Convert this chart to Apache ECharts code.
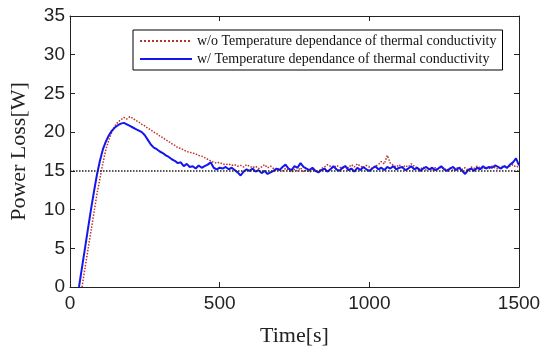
<!DOCTYPE html>
<html><head><meta charset="utf-8">
<script src="https://cdn.jsdelivr.net/npm/echarts@6/dist/echarts.min.js"></script>
<style>html,body{margin:0;padding:0;background:#fff}#c{width:550px;height:355px}</style>
</head><body><div id="c"></div>
<script>
const timeS = [30,40,50,60,70,80,90,100,110,120,130,140,150,160,170,180,190,200,210,220,230,240,250,260,270,280,290,300,310,320,330,340,350,360,370,380,390,400,410,420,430,440,450,460,470,480,490,500,510,520,530,540,550,560,570,580,590,600,610,620,630,640,650,660,670,680,690,700,710,720,730,740,750,760,770,780,790,800,810,820,830,840,850,860,870,880,890,900,910,920,930,940,950,960,970,980,990,1000,1010,1020,1030,1040,1050,1060,1070,1080,1090,1100,1110,1120,1130,1140,1150,1160,1170,1180,1190,1200,1210,1220,1230,1240,1250,1260,1270,1280,1290,1300,1310,1320,1330,1340,1350,1360,1370,1380,1390,1400,1410,1420,1430,1440,1450,1460,1470,1480,1490,1500];
const withTemp = [0,2.5,5,7.5,10,12.3,14.5,16.3,17.8,18.8,19.6,20.2,20.6,20.9,21.1,21.2,21.0,20.8,20.6,20.4,20.2,20.0,19.6,19.0,18.4,18.0,17.8,17.5,17.3,17.0,16.8,16.5,16.3,16.0,16.1,15.6,15.9,15.5,15.6,15.3,15.7,15.4,15.6,15.8,16.1,15.4,15.2,15.4,15.3,15.5,15.2,15.4,15.1,14.8,14.4,14.9,15.2,15.0,15.3,14.9,15.1,14.7,15.0,14.6,14.8,15.0,15.3,15.1,15.5,15.8,15.3,15.1,15.6,15.4,16.0,15.5,15.3,15.1,15.4,15.0,14.8,15.1,15.3,14.9,15.2,15.6,15.2,15.0,15.4,15.6,15.1,15.3,14.9,15.4,15.1,15.5,15.2,15.0,15.3,15.6,15.2,15.4,15.1,15.5,15.3,15.6,15.2,15.4,15.5,15.1,15.3,15.6,15.2,15.4,15.0,15.3,15.5,15.2,15.4,15.1,15.3,15.6,15.2,15.0,15.3,15.5,15.1,15.4,15.0,14.6,15.1,15.3,15.0,15.4,15.2,15.6,15.3,15.5,15.4,15.7,15.5,15.3,15.6,15.4,15.8,16.1,16.6,15.7];
const withoutTemp = [null,0,2.4,4.8,7.2,9.6,12.0,14.0,16.0,17.8,19.0,20.0,20.8,21.3,21.6,21.9,21.7,22.0,21.8,21.5,21.3,21.0,20.8,20.5,20.3,20.0,19.8,19.5,19.3,19.0,18.8,18.5,18.3,18.0,17.9,17.7,17.5,17.4,17.3,17.2,17.0,16.9,16.7,16.5,16.3,16.1,16.0,16.1,15.9,15.8,15.9,15.7,15.8,15.6,15.7,15.5,15.8,15.6,15.4,15.6,15.3,15.5,15.8,15.4,15.6,15.3,15.1,15.4,15.0,15.3,15.1,14.8,15.2,15.0,15.4,14.9,15.1,14.8,15.2,15.0,14.9,15.3,15.5,15.8,15.6,15.4,15.7,15.5,15.3,15.6,15.4,15.8,15.5,15.9,15.6,15.4,15.7,15.5,15.3,15.6,15.8,16.2,15.9,17.0,16.0,15.7,15.5,15.8,15.4,15.7,15.5,15.9,15.6,15.4,15.2,15.5,15.1,15.3,15.0,15.4,15.2,15.5,15.3,15.1,15.4,15.0,15.3,15.5,15.2,15.4,15.1,15.5,15.3,15.6,15.4,15.2,15.5,15.3,15.6,15.4,15.2,15.5,15.7,15.4,15.6,15.8,15.5,15.6];
const refLevel = 15;
const seriesNames = ['w/o Temperature dependance of thermal conductivity','w/ Temperature dependance of thermal conductivity'];

const pair = (xs, ys) => xs.map((x, i) => [x, ys[i]]);
const chart = echarts.init(document.getElementById('c'));
const tickFont = {fontFamily: 'Liberation Sans, Arial, sans-serif', fontSize: 19, color: '#222'};
const serif = 'Liberation Serif, Times New Roman, serif';
const frameLine = {show: true, onZero: false, lineStyle: {color: '#222'}};
const ticks = {show: true, inside: true, length: 5, lineStyle: {color: '#222'}};
chart.setOption({
  animation: false,
  grid: {left: 67, right: 31, top: 16, bottom: 68},
  legend: {
    orient: 'vertical', left: 133, top: 30, itemWidth: 52, itemHeight: 10, itemGap: 4,
    padding: [4, 6, 4, 6],
    borderColor: '#000', borderWidth: 1, backgroundColor: '#fff',
    itemStyle: {opacity: 0},
    textStyle: {fontFamily: serif, fontSize: 14, color: '#111'},
    data: seriesNames
  },
  xAxis: [
    {type: 'value', min: 0, max: 1500, interval: 500, position: 'bottom',
     name: 'Time[s]', nameLocation: 'middle', nameGap: 38,
     nameTextStyle: {fontFamily: serif, fontSize: 22, color: '#222'},
     axisLine: frameLine, axisTick: ticks,
     axisLabel: Object.assign({margin: 7, formatter: v => String(v)}, tickFont), splitLine: {show: false}},
    {type: 'value', min: 0, max: 1500, interval: 500, position: 'top',
     axisLine: frameLine, axisTick: ticks,
     axisLabel: {show: false}, splitLine: {show: false}}
  ],
  yAxis: [
    {type: 'value', min: 0, max: 35, interval: 5, position: 'left',
     name: 'Power Loss[W]', nameLocation: 'middle', nameGap: 40,
     nameTextStyle: {fontFamily: serif, fontSize: 22, color: '#222'},
     axisLine: frameLine, axisTick: ticks,
     axisLabel: Object.assign({margin: 5}, tickFont), splitLine: {show: false}},
    {type: 'value', min: 0, max: 35, interval: 5, position: 'right',
     axisLine: frameLine, axisTick: ticks,
     axisLabel: {show: false}, splitLine: {show: false}}
  ],
  series: [
    {name: seriesNames[0], type: 'line', data: pair(timeS, withoutTemp), showSymbol: false, symbol: 'none',
     color: '#b8322a', lineStyle: {color: '#b8322a', width: 1.5, type: 'dotted'},
     markLine: {silent: true, symbol: 'none', label: {show: false},
       lineStyle: {color: '#222', type: 'dotted', width: 1.5},
       data: [[{coord: [0, refLevel]}, {coord: [1500, refLevel]}]]}},
    {name: seriesNames[1], type: 'line', data: pair(timeS, withTemp), showSymbol: false, symbol: 'none',
     color: '#1515ee', lineStyle: {color: '#1515ee', width: 2}}
  ]
});
</script></body></html>
